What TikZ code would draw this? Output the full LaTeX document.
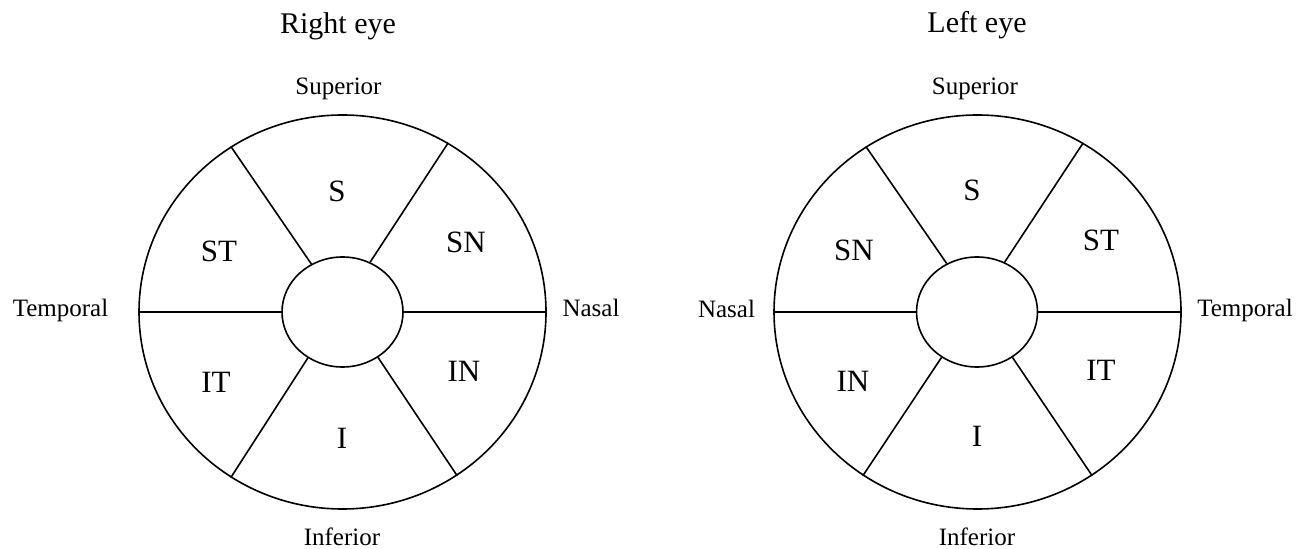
\documentclass[tikz,border=0pt]{standalone}
\usepackage{fontspec}
\setmainfont{Liberation Serif}
\usetikzlibrary{shapes.geometric}
\begin{document}
\begin{tikzpicture}[x=0.5pt,y=-0.5pt,
  rim/.style={draw, ellipse, line width=0.8pt, minimum width=203.5pt, minimum height=197pt, inner sep=0pt},
  disc/.style={draw, ellipse, fill=white, line width=0.8pt, minimum width=60.5pt, minimum height=55pt, inner sep=0pt},
  spoke/.style={line width=0.8pt},
  title/.style={anchor=base, font=\fontsize{15}{18}\selectfont, inner sep=0pt},
  side/.style={anchor=base, font=\fontsize{12.5}{15}\selectfont, inner sep=0pt},
  sector/.style={anchor=base, font=\fontsize{15.5}{18}\selectfont, inner sep=0pt}]
\useasboundingbox (0,0) rectangle (1309,549);

% ---------- right eye ----------
\node[rim]  (RO) at (342.5,312) {};
\node[disc] (RI) at (342.5,312) {};
\draw[spoke] (RI.west) -- (RO.west);
\draw[spoke] (RI.east) -- (RO.east);
\draw[spoke] (RI.123) -- (RO.124);
\draw[spoke] (RI.61)  -- (RO.58);
\draw[spoke] (RI.233) -- (RO.236);
\draw[spoke] (RI.-52) -- (RO.-55);

\node[title] (rtitle) at (338,34)  {Right eye};
\node[side]  (rsup)   at (338.5,95) {Superior};
\node[side]  (rinf)   at (342,545) {Inferior};
\node[side]  (rtem)   at (60.5,317) {Temporal};
\node[side]  (rnas)   at (591,317) {Nasal};

\node[sector] (rS)  at (337,201.5) {S};
\node[sector] (rST) at (219,261.5) {ST};
\node[sector] (rSN) at (466,253)   {SN};
\node[sector] (rIT) at (216,393)   {IT};
\node[sector] (rIN) at (464,381.5) {IN};
\node[sector] (rI)  at (342,448)   {I};

% ---------- left eye ----------
\node[rim]  (LO) at (977.5,312) {};
\node[disc] (LI) at (977,312) {};
\draw[spoke] (LI.west) -- (LO.west);
\draw[spoke] (LI.east) -- (LO.east);
\draw[spoke] (LI.122) -- (LO.124);
\draw[spoke] (LI.61)  -- (LO.58);
\draw[spoke] (LI.232) -- (LO.235);
\draw[spoke] (LI.-52) -- (LO.-55);

\node[title] (ltitle) at (977,33)  {Left eye};
\node[side]  (lsup)   at (975,95)  {Superior};
\node[side]  (linf)   at (977,545) {Inferior};
\node[side]  (lnas)   at (726.5,318) {Nasal};
\node[side]  (ltem)   at (1245,317) {Temporal};

\node[sector] (lS)  at (972,201)   {S};
\node[sector] (lSN) at (854,260.5) {SN};
\node[sector] (lST) at (1101,250.5) {ST};
\node[sector] (lIN) at (853,391.5) {IN};
\node[sector] (lIT) at (1101,380.5) {IT};
\node[sector] (lI)  at (977,446.5) {I};
\end{tikzpicture}
\end{document}
